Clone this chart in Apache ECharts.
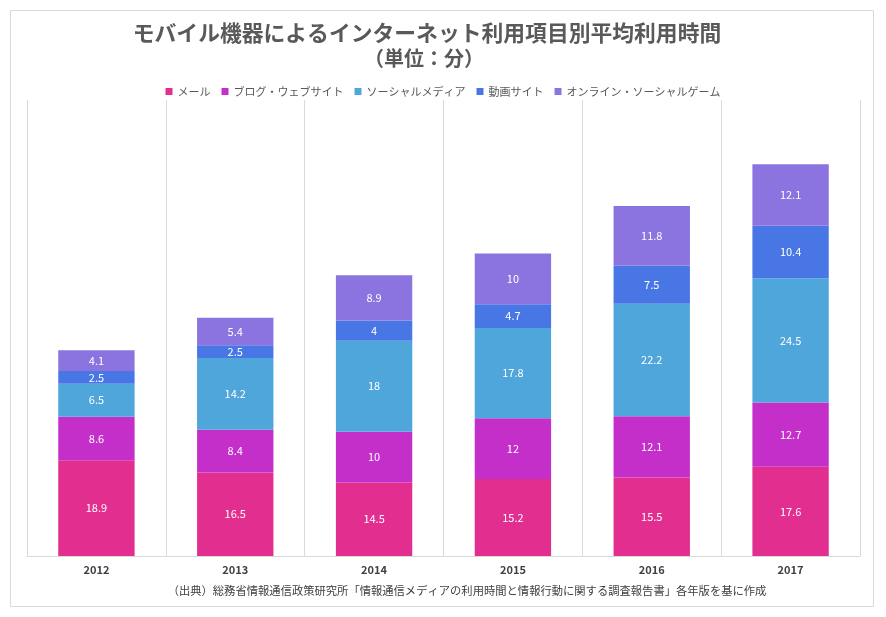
<!DOCTYPE html>
<html><head><meta charset="utf-8">
<script src="https://cdn.jsdelivr.net/npm/echarts@6/dist/echarts.min.js"></script>
<style>html,body{margin:0;padding:0;background:#fff}#c{width:886px;height:617px}</style>
</head><body><div id="c"></div>
<script>
const years = ['2012','2013','2014','2015','2016','2017'];
const mail = [18.9,16.5,14.5,15.2,15.5,17.6];
const blog = [8.6,8.4,10,12,12.1,12.7];
const social = [6.5,14.2,18,17.8,22.2,24.5];
const video = [2.5,2.5,4,4.7,7.5,10.4];
const game = [4.1,5.4,8.9,10,11.8,12.1];
const names = ['メール','ブログ・ウェブサイト','ソーシャルメディア','動画サイト','オンライン・ソーシャルゲーム'];
const colors = ['#E22E8E','#C42FC9','#4FA6DB','#4877E5','#8B73E0'];
const seriesData = [mail, blog, social, video, game];
const font = '"Noto Sans CJK JP","Noto Sans",sans-serif';
const chart = echarts.init(document.getElementById('c'));
chart.setOption({
  animation:false,
  textStyle:{fontFamily:font},
  graphic:[
    {type:'rect',shape:{x:10.5,y:10.5,width:863,height:596},style:{fill:'none',stroke:'#d9d9d9',lineWidth:1}},
    {type:'text',x:427,y:33,style:{text:'モバイル機器によるインターネット利用項目別平均利用時間',textAlign:'center',textVerticalAlign:'middle',font:'bold 21.8px '+font,fill:'#595959'}},
    {type:'text',x:424,y:58,style:{text:'（単位：分）',textAlign:'center',textVerticalAlign:'middle',font:'bold 20px '+font,fill:'#595959'}},
    {type:'text',x:467,y:591,style:{text:'（出典）総務省情報通信政策研究所「情報通信メディアの利用時間と情報行動に関する調査報告書」各年版を基に作成',textAlign:'center',textVerticalAlign:'middle',font:'11.3px '+font,fill:'#404040'}}
  ],
  legend:{top:81,left:'center',itemWidth:7,itemHeight:7,itemGap:11,icon:'rect',
    textStyle:{fontSize:11,color:'#595959',fontFamily:font}},
  grid:{left:27,right:26,top:100,bottom:61},
  xAxis:{type:'category',data:years,
    axisLine:{lineStyle:{color:'#d9d9d9'}},axisTick:{show:false},
    axisLabel:{fontWeight:'bold',fontSize:11,color:'#404040',margin:8},
    splitLine:{show:true,interval:0,lineStyle:{color:'#d9d9d9'}}},
  yAxis:{type:'value',min:0,max:90,show:false,splitLine:{show:false}},
  series: seriesData.map((d,i)=>({
    name:names[i],type:'bar',stack:'a',data:d,barWidth:'55%',
    itemStyle:{color:colors[i]},
    label:{show:true,position:'inside',color:'#fff',fontSize:11,fontFamily:font}
  }))
});
</script></body></html>
